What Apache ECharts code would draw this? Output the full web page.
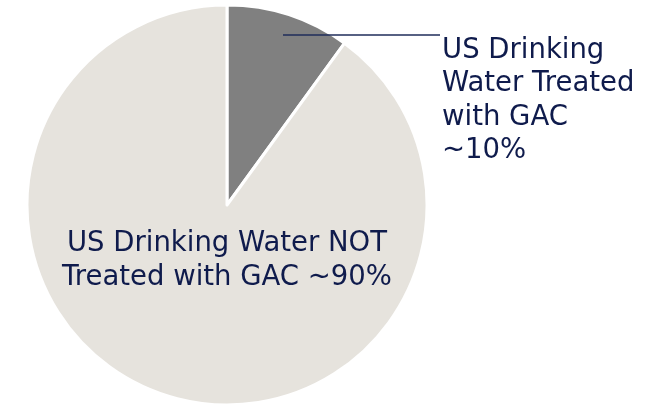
<!DOCTYPE html>
<html>
<head>
<meta charset="utf-8">
<script src="https://cdn.jsdelivr.net/npm/echarts@6/dist/echarts.min.js"></script>
<style>
  html, body { margin: 0; padding: 0; background: #fff; }
  #main { width: 648px; height: 405px; }
</style>
</head>
<body>
<div id="main"></div>
<script>
var names = ['US Drinking\nWater Treated\nwith GAC\n~10%', 'US Drinking Water NOT\nTreated with GAC ~90%'];
var values = [10, 90];
var colors = ['#808080', '#e6e3dd'];

window.onload = function () {
    var myChart = echarts.init(document.getElementById('main'));
    var pieData = values.map(function (v, i) {
        return { value: v, name: names[i], itemStyle: { color: colors[i] } };
    });
    // second copy, transparent, only used to draw labels above the slices
    var labelData = values.map(function (v, i) {
        return {
            value: v,
            name: names[i],
            label: i === 0 ? { position: 'outside', align: 'left' } : { position: 'inside', align: 'center' },
            labelLine: { show: i === 0 }
        };
    });
    var option = {
        animation: false,
        series: [
            {
                type: 'pie',
                z: 2,
                center: [227, 205],
                radius: [0, 200],
                startAngle: 90,
                clockwise: true,
                silent: true,
                itemStyle: {
                    borderColor: '#fff',
                    borderWidth: 3
                },
                label: { show: false },
                labelLine: { show: false },
                data: pieData
            },
            {
                type: 'pie',
                z: 5,
                center: [227, 205],
                radius: [0, 200],
                startAngle: 90,
                clockwise: true,
                silent: true,
                itemStyle: { color: 'rgba(0,0,0,0)', borderWidth: 0 },
                label: {
                    show: true,
                    formatter: '{b}',
                    fontFamily: "'DejaVu Sans', Verdana, sans-serif",
                    fontSize: 27.5,
                    lineHeight: 33.5,
                    color: '#0f1b4c'
                },
                labelLine: { show: true, lineStyle: { color: '#1f2d5a', width: 1.3 } },
                labelLayout: function (params) {
                    if (params.dataIndex === 0) {
                        return {
                            x: 442,
                            y: 34,
                            align: 'left',
                            verticalAlign: 'top',
                            labelLinePoints: [[283, 35], [360, 35], [440, 35]]
                        };
                    }
                    return {
                        x: 227,
                        y: 261,
                        align: 'center',
                        verticalAlign: 'middle'
                    };
                },
                data: labelData
            }
        ]
    };
    myChart.setOption(option);
    window.onresize = function () {
        myChart.resize();
    };
};
</script>
</body>
</html>
